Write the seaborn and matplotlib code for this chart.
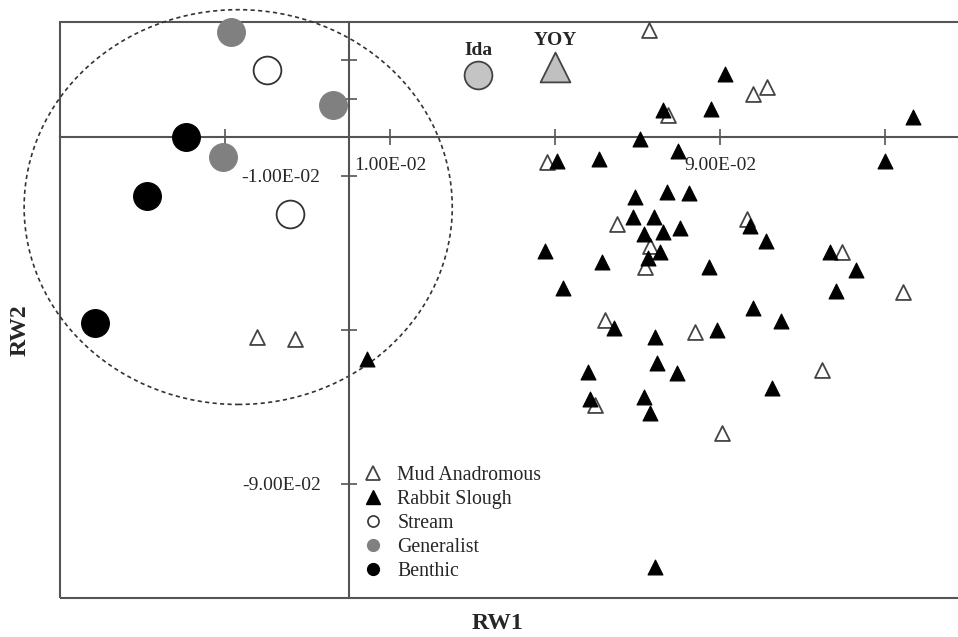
import pandas as pd
import seaborn as sns
import matplotlib.pyplot as plt
from matplotlib.lines import Line2D
from matplotlib.patches import Ellipse, Rectangle

# Relative warp scores (RW1, RW2)
mud_rw1 = [0.0727, 0.0773, 0.0480, 0.0979, 0.1013, 0.0650, 0.0730, 0.0718, 0.0965,
           0.1195, 0.1343, 0.0621, 0.0839, 0.0596, 0.0904, 0.1147, -0.0223, -0.0131]
mud_rw2 = [0.0278, 0.0057, -0.0065, 0.0112, 0.0132, -0.0226, -0.0281, -0.0338, -0.0213,
           -0.0299, -0.0403, -0.0475, -0.0506, -0.0696, -0.0769, -0.0605, -0.0519, -0.0525]

rabbit_rw1 = [0.0912, 0.0761, 0.0878, 0.0705, 0.0798, 0.0504, 0.0606, 0.1367, 0.1299,
              0.0693, 0.0771, 0.0824, 0.0688, 0.0739, 0.0715, 0.0761, 0.0802, 0.0754,
              0.0725, 0.0475, 0.0613, 0.0873, 0.0519, 0.0972, 0.1011, 0.1166, 0.1229,
              0.1181, 0.0979, 0.0642, 0.0742, 0.0892, 0.0747, 0.0795, 0.0579, 0.0584,
              0.0715, 0.0730, 0.1047, 0.1025, 0.0044, 0.0742]
rabbit_rw2 = [0.0166, 0.0070, 0.0075, -0.0003, -0.0034, -0.0062, -0.0055, 0.0052, -0.0060,
              -0.0156, -0.0143, -0.0145, -0.0208, -0.0208, -0.0252, -0.0247, -0.0236, -0.0299,
              -0.0314, -0.0294, -0.0325, -0.0338, -0.0392, -0.0229, -0.0268, -0.0299, -0.0345,
              -0.0400, -0.0444, -0.0496, -0.0519, -0.0501, -0.0587, -0.0613, -0.0610, -0.0681,
              -0.0675, -0.0717, -0.0478, -0.0652, -0.0577, -0.1117]

stream_rw1 = [-0.0199, -0.0143]
stream_rw2 = [0.0174, -0.0200]
generalist_rw1 = [-0.0286, -0.0039, -0.0305]
generalist_rw2 = [0.0273, 0.0083, -0.0052]
benthic_rw1 = [-0.0395, -0.0490, -0.0616]
benthic_rw2 = [0.0000, -0.0151, -0.0483]

ida_rw1, ida_rw2 = [0.0313], [0.0161]
yoy_rw1, yoy_rw2 = [0.0499], [0.0182]

x_ticks = [-0.03, 0.01, 0.05, 0.09, 0.13]
x_labels = ["", "1.00E-02", "", "9.00E-02", ""]
y_ticks = [0.03, 0.02, 0.01, -0.01, -0.05, -0.09]
y_labels = ["", "", "", "-1.00E-02", "", "-9.00E-02"]

# dashed circle around the lake groups
circ_center = (-0.0269, -0.0181)
circ_w, circ_h = 0.1038, 0.1026

sns.set_theme(style="white")
plt.rcParams['font.family'] = ['Liberation Serif', 'DejaVu Serif']

fig = plt.figure(figsize=(9.58, 6.37), dpi=100)
ax = fig.add_axes([60 / 958, 39 / 637, 900 / 958, 576 / 637])

line_col = "#555555"
edge_col = "#444444"
big = 400
tri = 115

sns.scatterplot(x=mud_rw1, y=mud_rw2, marker="^", s=tri, color="white",
                edgecolor=edge_col, linewidth=1.3, ax=ax, clip_on=False, zorder=3)
sns.scatterplot(x=rabbit_rw1, y=rabbit_rw2, marker="^", s=tri, color="black",
                edgecolor="black", linewidth=0.8, ax=ax, clip_on=False, zorder=4)
sns.scatterplot(x=stream_rw1, y=stream_rw2, marker="o", s=big, color="white",
                edgecolor="#333333", linewidth=1.3, ax=ax, clip_on=False, zorder=3)
sns.scatterplot(x=generalist_rw1, y=generalist_rw2, marker="o", s=big, color="#808080",
                edgecolor="#808080", linewidth=0.8, ax=ax, clip_on=False, zorder=3)
sns.scatterplot(x=benthic_rw1, y=benthic_rw2, marker="o", s=big, color="black",
                edgecolor="black", linewidth=0.8, ax=ax, clip_on=False, zorder=3)
sns.scatterplot(x=ida_rw1, y=ida_rw2, marker="o", s=big, color="#c4c4c4",
                edgecolor=edge_col, linewidth=1.3, ax=ax, clip_on=False, zorder=3)
sns.scatterplot(x=yoy_rw1, y=yoy_rw2, marker="^", s=big * 1.15, color="#c0c0c0",
                edgecolor=edge_col, linewidth=1.3, ax=ax, clip_on=False, zorder=3)

ax.annotate("Ida", (ida_rw1[0], ida_rw2[0]), xytext=(0, 18), textcoords="offset points",
            ha="center", va="center", fontsize=14, fontweight="bold")
ax.annotate("YOY", (yoy_rw1[0], yoy_rw2[0]), xytext=(0, 19.5), textcoords="offset points",
            ha="center", va="center", fontsize=14, fontweight="bold")

ax.add_patch(Ellipse(circ_center, circ_w, circ_h, fill=False, edgecolor="#333333",
                     linestyle=(0, (2.5, 2)), linewidth=1.2, clip_on=False, zorder=2))

ax.set_xlim(-0.0701, 0.1481)
ax.set_ylim(-0.1197, 0.0300)

# axes crossing at the origin, plus an outer frame
for side in ["top", "right"]:
    ax.spines[side].set_visible(False)
for side in ["left", "bottom"]:
    ax.spines[side].set_position("zero")
    ax.spines[side].set_color(line_col)
    ax.spines[side].set_linewidth(1.5)
ax.add_patch(Rectangle((0, 0), 1, 1, transform=ax.transAxes, fill=False,
                       edgecolor=line_col, linewidth=1.5, clip_on=False, zorder=1))

ax.set_xticks(x_ticks, labels=x_labels)
ax.set_yticks(y_ticks, labels=y_labels)
ax.tick_params(axis="x", direction="inout", length=12, width=1.2, color=line_col,
               pad=8, labelsize=14, bottom=True)
ax.tick_params(axis="y", direction="inout", length=12, width=1.2, color=line_col,
               pad=14.5, labelsize=14, left=True)

ax.set_xlabel("RW1", fontsize=17, fontweight="bold")
ax.set_ylabel("RW2", fontsize=17, fontweight="bold")
ax.xaxis.set_label_coords(0.486, -0.026)
ax.yaxis.set_label_coords(-0.033, 0.465)

handles = [
    Line2D([], [], marker="^", linestyle="", markersize=9.5, markerfacecolor="white",
           markeredgecolor=edge_col, markeredgewidth=1.3),
    Line2D([], [], marker="^", linestyle="", markersize=9.5, markerfacecolor="black",
           markeredgecolor="black"),
    Line2D([], [], marker="o", linestyle="", markersize=8, markerfacecolor="white",
           markeredgecolor="#333333", markeredgewidth=1.2),
    Line2D([], [], marker="o", linestyle="", markersize=8.5, markerfacecolor="#808080",
           markeredgecolor="#808080"),
    Line2D([], [], marker="o", linestyle="", markersize=8.5, markerfacecolor="black",
           markeredgecolor="black"),
]
ax.legend(handles, ["Mud Anadromous", "Rabbit Slough", "Stream", "Generalist", "Benthic"],
          loc="upper left", bbox_to_anchor=(0.337, 0.229), frameon=False, fontsize=14.3,
          handlelength=1.0, handletextpad=0.72, labelspacing=0.25, borderpad=0,
          borderaxespad=0)

plt.savefig("out.png", dpi=100)
